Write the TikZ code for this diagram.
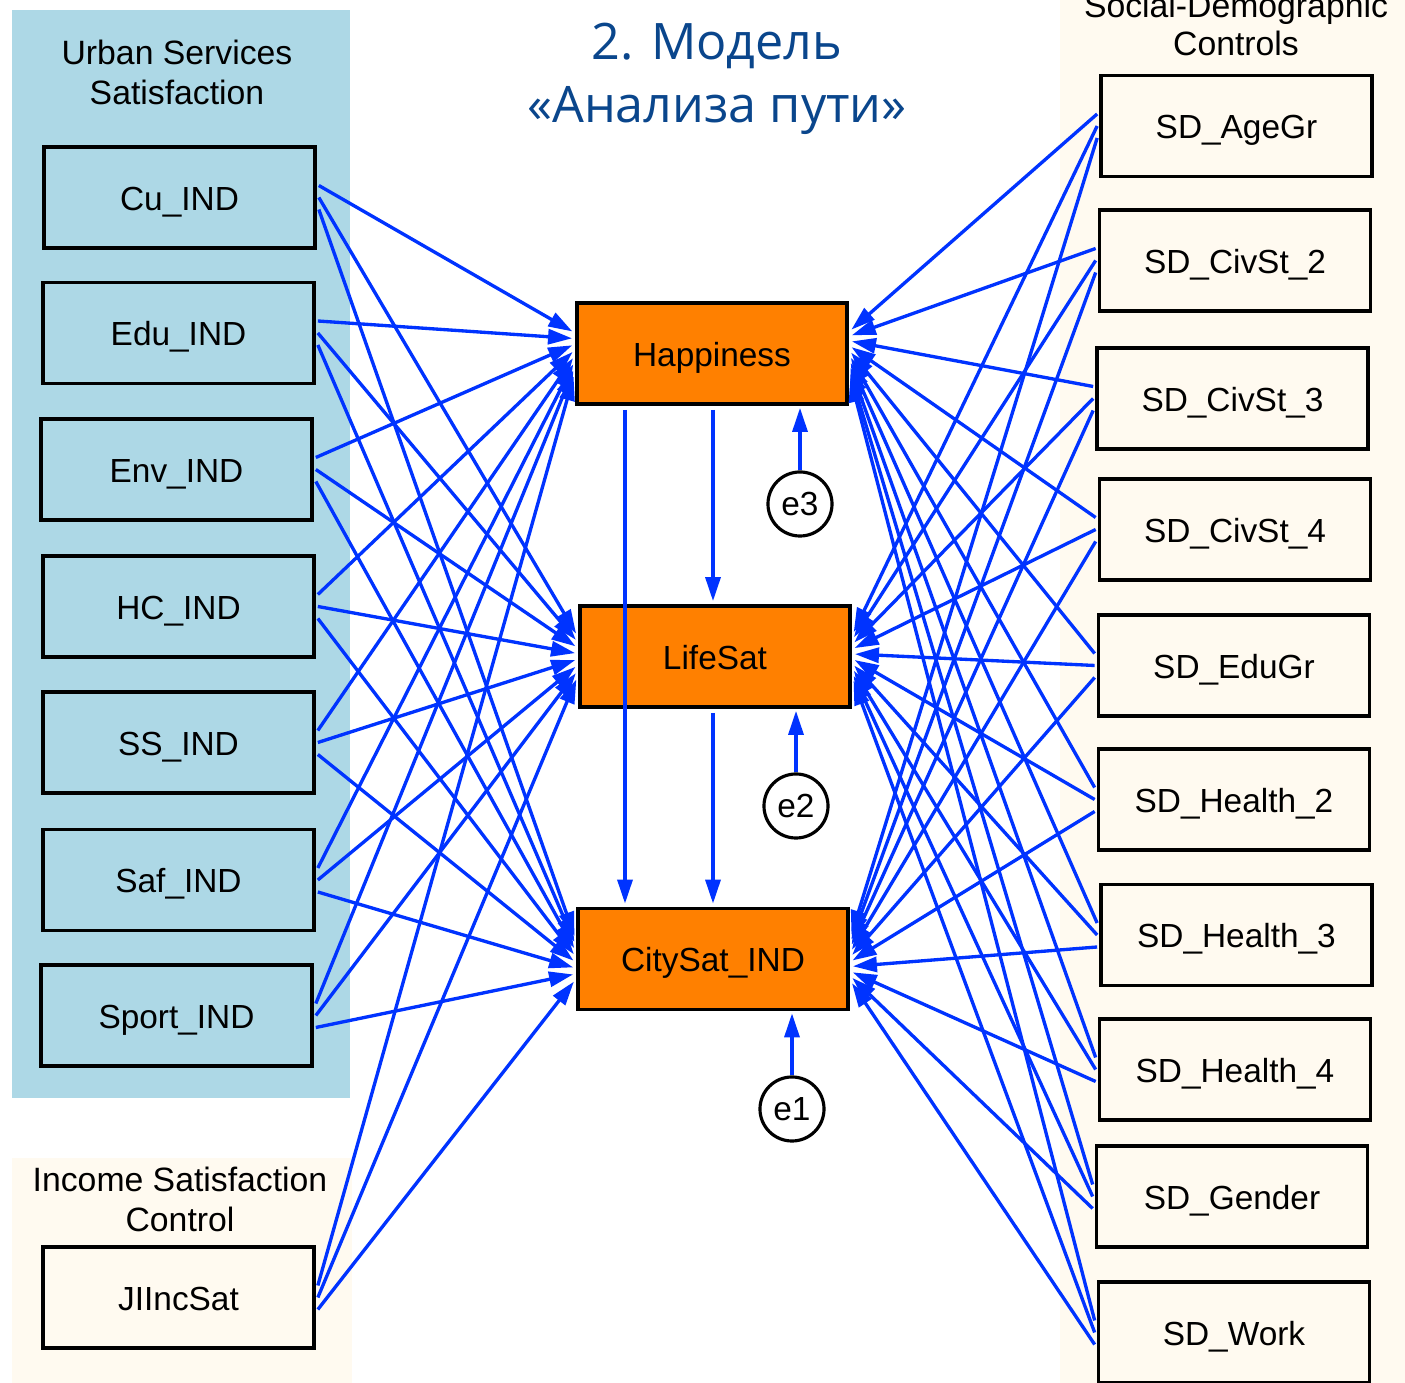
\documentclass[tikz,border=0pt]{standalone}
\usepackage{fontspec}
\setmainfont{Liberation Sans}
\newfontfamily\titlefont{Open Sans}
\usetikzlibrary{arrows.meta,calc}
\definecolor{panelblue}{RGB}{173,216,230}
\definecolor{cream}{RGB}{255,250,240}
\definecolor{endo}{RGB}{255,128,0}
\definecolor{linkblue}{RGB}{0,51,255}
\definecolor{titleblue}{RGB}{10,70,140}
\begin{document}
\begin{tikzpicture}[x=0.01cm,y=-0.01cm,
  var/.style={draw=black,line width=1pt,minimum width=2.71cm,minimum height=1.01cm,inner sep=0pt,text height=0.72em,text depth=0pt,font=\fontsize{9.5}{11}\selectfont},
  exo/.style={var,fill=panelblue},
  ctrl/.style={var,fill=cream},
  endv/.style={var,fill=endo,minimum width=2.70cm},
  err/.style={circle,draw=black,line width=0.9pt,fill=white,minimum size=0.64cm,inner sep=0pt,font=\fontsize{9.5}{11}\selectfont},
  link/.style={linkblue,line width=0.95pt,-{Triangle[length=2.4mm,width=1.5mm]},shorten >=0.6pt},
  ptitle/.style={font=\fontsize{9.6}{11}\selectfont,anchor=base,inner sep=0pt},
  mtitle/.style={font=\titlefont\fontsize{14.3}{17}\selectfont,text=titleblue,anchor=base,inner sep=0pt}
]
\useasboundingbox (0,0) rectangle (1405,1383);
\fill[white] (0,0) rectangle (1405,1383);
% panels
\fill[panelblue] (12,10) rectangle (350,1098);
\fill[cream] (12,1158) rectangle (352,1383);
\fill[cream] (1060,0) rectangle (1405,1383);

% panel titles
\node[ptitle] (tu1) at (177,65) {Urban Services};
\node[ptitle] (tu2) at (177,105) {Satisfaction};
\node[ptitle] (ti1) at (180,1192) {Income Satisfaction};
\node[ptitle] (ti2) at (180,1232) {Control};
\node[ptitle] (ts1) at (1236,18) {Social-Demographic};
\node[ptitle] (ts2) at (1236,56) {Controls};

% main title
\node[mtitle] (m1) at (717,60) {2. Модель};
\node[mtitle] (m2) at (717,123) {«Анализа пути»};

% exogenous (left)
\node[exo] (cu) at (179.5,197.5) {Cu\_IND};
\node[exo] (edu) at (178.5,333) {Edu\_IND};
\node[exo] (env) at (176.5,469.5) {Env\_IND};
\node[exo] (hc) at (178.5,606.5) {HC\_IND};
\node[exo] (ss) at (178.5,742.5) {SS\_IND};
\node[exo] (saf) at (178.5,880) {Saf\_IND};
\node[exo] (sport) at (176.5,1015.5) {Sport\_IND};
\node[ctrl] (inc) at (178.5,1297.5) {JIIncSat};

% controls (right)
\node[ctrl] (age) at (1236.5,126) {SD\_AgeGr};
\node[ctrl] (civ2) at (1235,260.5) {SD\_CivSt\_2};
\node[ctrl] (civ3) at (1232.5,398.5) {SD\_CivSt\_3};
\node[ctrl] (civ4) at (1235,529.5) {SD\_CivSt\_4};
\node[ctrl] (edug) at (1234,665.5) {SD\_EduGr};
\node[ctrl] (h2) at (1234,799.5) {SD\_Health\_2};
\node[ctrl] (h3) at (1236.5,935) {SD\_Health\_3};
\node[ctrl] (h4) at (1235,1069.5) {SD\_Health\_4};
\node[ctrl] (gen) at (1232,1196.5) {SD\_Gender};
\node[ctrl] (work) at (1234,1332.5) {SD\_Work};

% endogenous
\node[endv] (hap) at (712,353.5) {Happiness};
\node[endv] (life) at (715,656.5) {LifeSat};
\node[endv] (city) at (713,959) {CitySat\_IND};

% errors
\node[err] (e3) at (800,504) {e3};
\node[err] (e2) at (796,806) {e2};
\node[err] (e1) at (792,1109) {e1};

% left paths
\foreach \s/\i in {cu/0,edu/1,env/2,hc/3,ss/4,saf/5,sport/6,inc/7}{
  \foreach \t/\j in {hap/-12,life/0,city/12}{
    \draw[link] ($(\s.east)+(2,\j)$) -- ($(\t.west)+(-1,{(\i-3.5)*6})$);
  }
}
% right paths
\foreach \s/\i in {age/0,civ2/1,civ3/2,civ4/3,edug/4,h2/5,h3/6,h4/7,gen/8,work/9}{
  \foreach \t/\j in {hap/-12,life/0,city/12}{
    \draw[link] ($(\s.west)+(-2,\j)$) -- ($(\t.east)+(1,{(\i-4.5)*5})$);
  }
}
% structural paths
\draw[link] ($(hap.south)+(-87,4)$) -- ($(city.north)+(-88,-1)$);
\draw[link] ($(hap.south)+(1,4)$) -- ($(life.north)+(-2,-1)$);
\draw[link] ($(life.south)+(-2,4)$) -- ($(city.north)+(0,-1)$);
% error paths
\draw[link] (e3.north) -- (e3.north |- hap.south);
\draw[link] (e2.north) -- (e2.north |- life.south);
\draw[link] (e1.north) -- (e1.north |- city.south);
\end{tikzpicture}
\end{document}
